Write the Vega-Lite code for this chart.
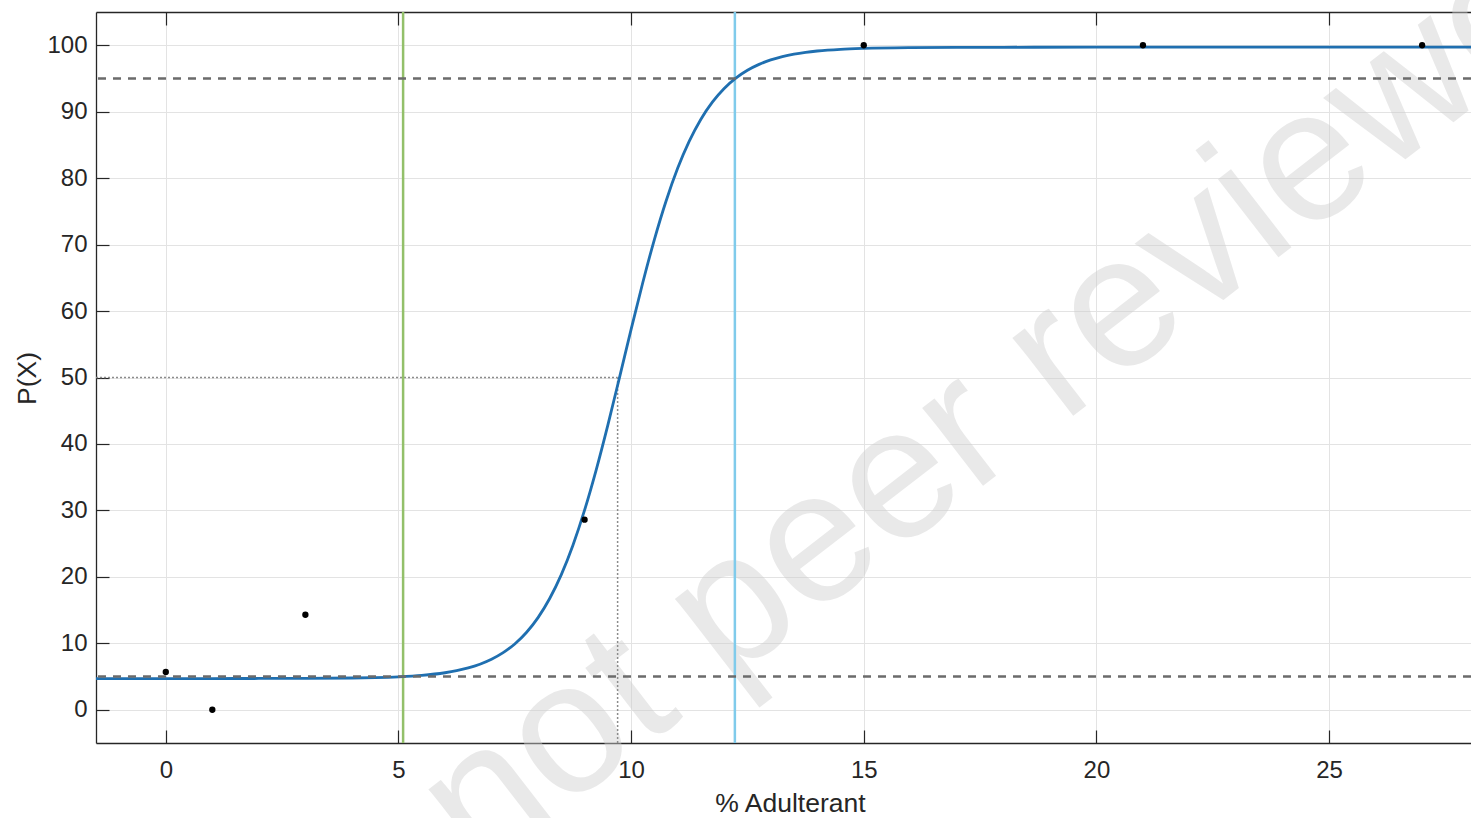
{
  "$schema": "https://vega.github.io/schema/vega-lite/v6.json",
  "autosize": {"type": "none"},
  "padding": {"left": 96, "top": 12, "right": 0, "bottom": 75},
  "width": 1375,
  "height": 731,
  "background": "white",
  "config": {
    "font": "Liberation Sans",
    "view": {"stroke": null},
    "axis": {
      "domainColor": "#262626",
      "domainWidth": 1.3,
      "tickColor": "#262626",
      "tickWidth": 1.2,
      "gridColor": "#e3e3e3",
      "gridWidth": 1,
      "labelFont": "Liberation Sans",
      "labelFontSize": 24,
      "labelColor": "#262626",
      "labelOverlap": false,
      "labelFlush": false,
      "titleFont": "Liberation Sans",
      "titleFontSize": 26.5,
      "titleFontWeight": "normal",
      "titleColor": "#262626"
    }
  },
  "datasets": {
    "curve": [
      {"x": -1.5, "p": 4.70}, {"x": 0, "p": 4.70}, {"x": 1, "p": 4.70}, {"x": 2, "p": 4.71},
      {"x": 3, "p": 4.72}, {"x": 4, "p": 4.78}, {"x": 4.5, "p": 4.84}, {"x": 5, "p": 4.96},
      {"x": 5.5, "p": 5.17}, {"x": 6, "p": 5.57}, {"x": 6.25, "p": 5.88}, {"x": 6.5, "p": 6.29},
      {"x": 6.75, "p": 6.85}, {"x": 7, "p": 7.60}, {"x": 7.25, "p": 8.59}, {"x": 7.5, "p": 9.90},
      {"x": 7.75, "p": 11.63}, {"x": 8, "p": 13.87}, {"x": 8.25, "p": 16.74}, {"x": 8.5, "p": 20.34},
      {"x": 8.75, "p": 24.77}, {"x": 9, "p": 30.04}, {"x": 9.25, "p": 36.11}, {"x": 9.5, "p": 42.84},
      {"x": 9.75, "p": 49.99}, {"x": 10, "p": 57.24}, {"x": 10.25, "p": 64.26}, {"x": 10.5, "p": 70.76},
      {"x": 10.75, "p": 76.53}, {"x": 11, "p": 81.47}, {"x": 11.25, "p": 85.56}, {"x": 11.5, "p": 88.87},
      {"x": 11.75, "p": 91.47}, {"x": 12, "p": 93.50}, {"x": 12.25, "p": 95.05}, {"x": 12.5, "p": 96.23},
      {"x": 12.75, "p": 97.12}, {"x": 13, "p": 97.79}, {"x": 13.25, "p": 98.29}, {"x": 13.5, "p": 98.66},
      {"x": 13.75, "p": 98.93}, {"x": 14, "p": 99.13}, {"x": 14.5, "p": 99.39}, {"x": 15, "p": 99.53},
      {"x": 16, "p": 99.65}, {"x": 17, "p": 99.685}, {"x": 18, "p": 99.69}, {"x": 20, "p": 99.70},
      {"x": 24, "p": 99.70}, {"x": 28.05, "p": 99.70}
    ],
    "obs": [
      {"x": 0, "p": 5.7}, {"x": 1, "p": 0}, {"x": 3, "p": 14.3}, {"x": 9, "p": 28.6},
      {"x": 15, "p": 100}, {"x": 21, "p": 100}, {"x": 27, "p": 100}
    ],
    "limits": [{"p": 5}, {"p": 95}],
    "half": [{"x0": -1.5, "x": 9.71, "p0": -5, "p": 50}],
    "mark": [{"t": "not peer reviewed", "x": 19.37, "p": 43.5}]
  },
  "layer": [
    {
      "data": {"name": "mark"},
      "mark": {"type": "text", "angle": -37.7, "fontSize": 187, "font": "Liberation Sans", "fill": "#cfcfcf", "opacity": 0.45, "align": "center", "baseline": "alphabetic"},
      "encoding": {
        "x": {"field": "x", "type": "quantitative", "scale": {"domain": [-1.5, 28.05], "nice": false, "zero": false},
          "axis": {"orient": "bottom", "values": [0, 5, 10, 15, 20, 25], "grid": true, "tickSize": -13, "labelPadding": 47, "labelBaseline": "alphabetic",
            "title": "% Adulterant", "titleX": 694, "titleY": 68, "titleBaseline": "alphabetic", "titleAlign": "center"}},
        "y": {"field": "p", "type": "quantitative", "scale": {"domain": [-5, 105], "nice": false, "zero": false},
          "axis": {"orient": "left", "values": [0, 10, 20, 30, 40, 50, 60, 70, 80, 90, 100], "grid": true, "tickSize": -13, "labelPadding": 22,
            "title": "P(X)", "titleX": -61, "titleY": 366, "titleAngle": 270, "titleBaseline": "alphabetic", "titleAlign": "center"}},
        "text": {"field": "t"}
      }
    },
    {
      "data": {"name": "half"},
      "mark": {"type": "rule", "color": "#8c8c8c", "strokeWidth": 1.5, "strokeDash": [2, 2]},
      "encoding": {
        "x": {"field": "x0", "type": "quantitative", "scale": {"domain": [-1.5, 28.05]}, "axis": null},
        "x2": {"field": "x"},
        "y": {"field": "p", "type": "quantitative", "scale": {"domain": [-5, 105]}, "axis": null}
      }
    },
    {
      "data": {"name": "half"},
      "mark": {"type": "rule", "color": "#8c8c8c", "strokeWidth": 1.5, "strokeDash": [2, 2]},
      "encoding": {
        "x": {"field": "x", "type": "quantitative", "scale": {"domain": [-1.5, 28.05]}, "axis": null},
        "y": {"field": "p0", "type": "quantitative", "scale": {"domain": [-5, 105]}, "axis": null},
        "y2": {"field": "p"}
      }
    },
    {
      "data": {"values": [{"x": 5.1}]},
      "mark": {"type": "rule", "color": "#93c06a", "strokeWidth": 2.5},
      "encoding": {
        "x": {"field": "x", "type": "quantitative", "scale": {"domain": [-1.5, 28.05]}, "axis": null}
      }
    },
    {
      "data": {"values": [{"x": 12.23}]},
      "mark": {"type": "rule", "color": "#80cbeb", "strokeWidth": 2.5},
      "encoding": {
        "x": {"field": "x", "type": "quantitative", "scale": {"domain": [-1.5, 28.05]}, "axis": null}
      }
    },
    {
      "data": {"name": "curve"},
      "mark": {"type": "line", "color": "#1f6fb0", "strokeWidth": 2.8, "interpolate": "monotone"},
      "encoding": {
        "x": {"field": "x", "type": "quantitative", "scale": {"domain": [-1.5, 28.05], "nice": false, "zero": false},
          "axis": {"orient": "top", "values": [0, 5, 10, 15, 20, 25], "grid": false, "labels": false, "tickSize": -13, "title": null}},
        "y": {"field": "p", "type": "quantitative", "scale": {"domain": [-5, 105]}, "axis": null}
      }
    },
    {
      "data": {"name": "limits"},
      "mark": {"type": "rule", "color": "#6b6b6b", "strokeWidth": 2.5, "strokeDash": [8, 7]},
      "encoding": {
        "y": {"field": "p", "type": "quantitative", "scale": {"domain": [-5, 105]}, "axis": null}
      }
    },
    {
      "data": {"name": "obs"},
      "mark": {"type": "point", "filled": true, "color": "black", "size": 40, "opacity": 1},
      "encoding": {
        "x": {"field": "x", "type": "quantitative", "scale": {"domain": [-1.5, 28.05]}, "axis": null},
        "y": {"field": "p", "type": "quantitative", "scale": {"domain": [-5, 105]}, "axis": null}
      }
    }
  ],
  "resolve": {"axis": {"x": "independent", "y": "independent"}}
}
